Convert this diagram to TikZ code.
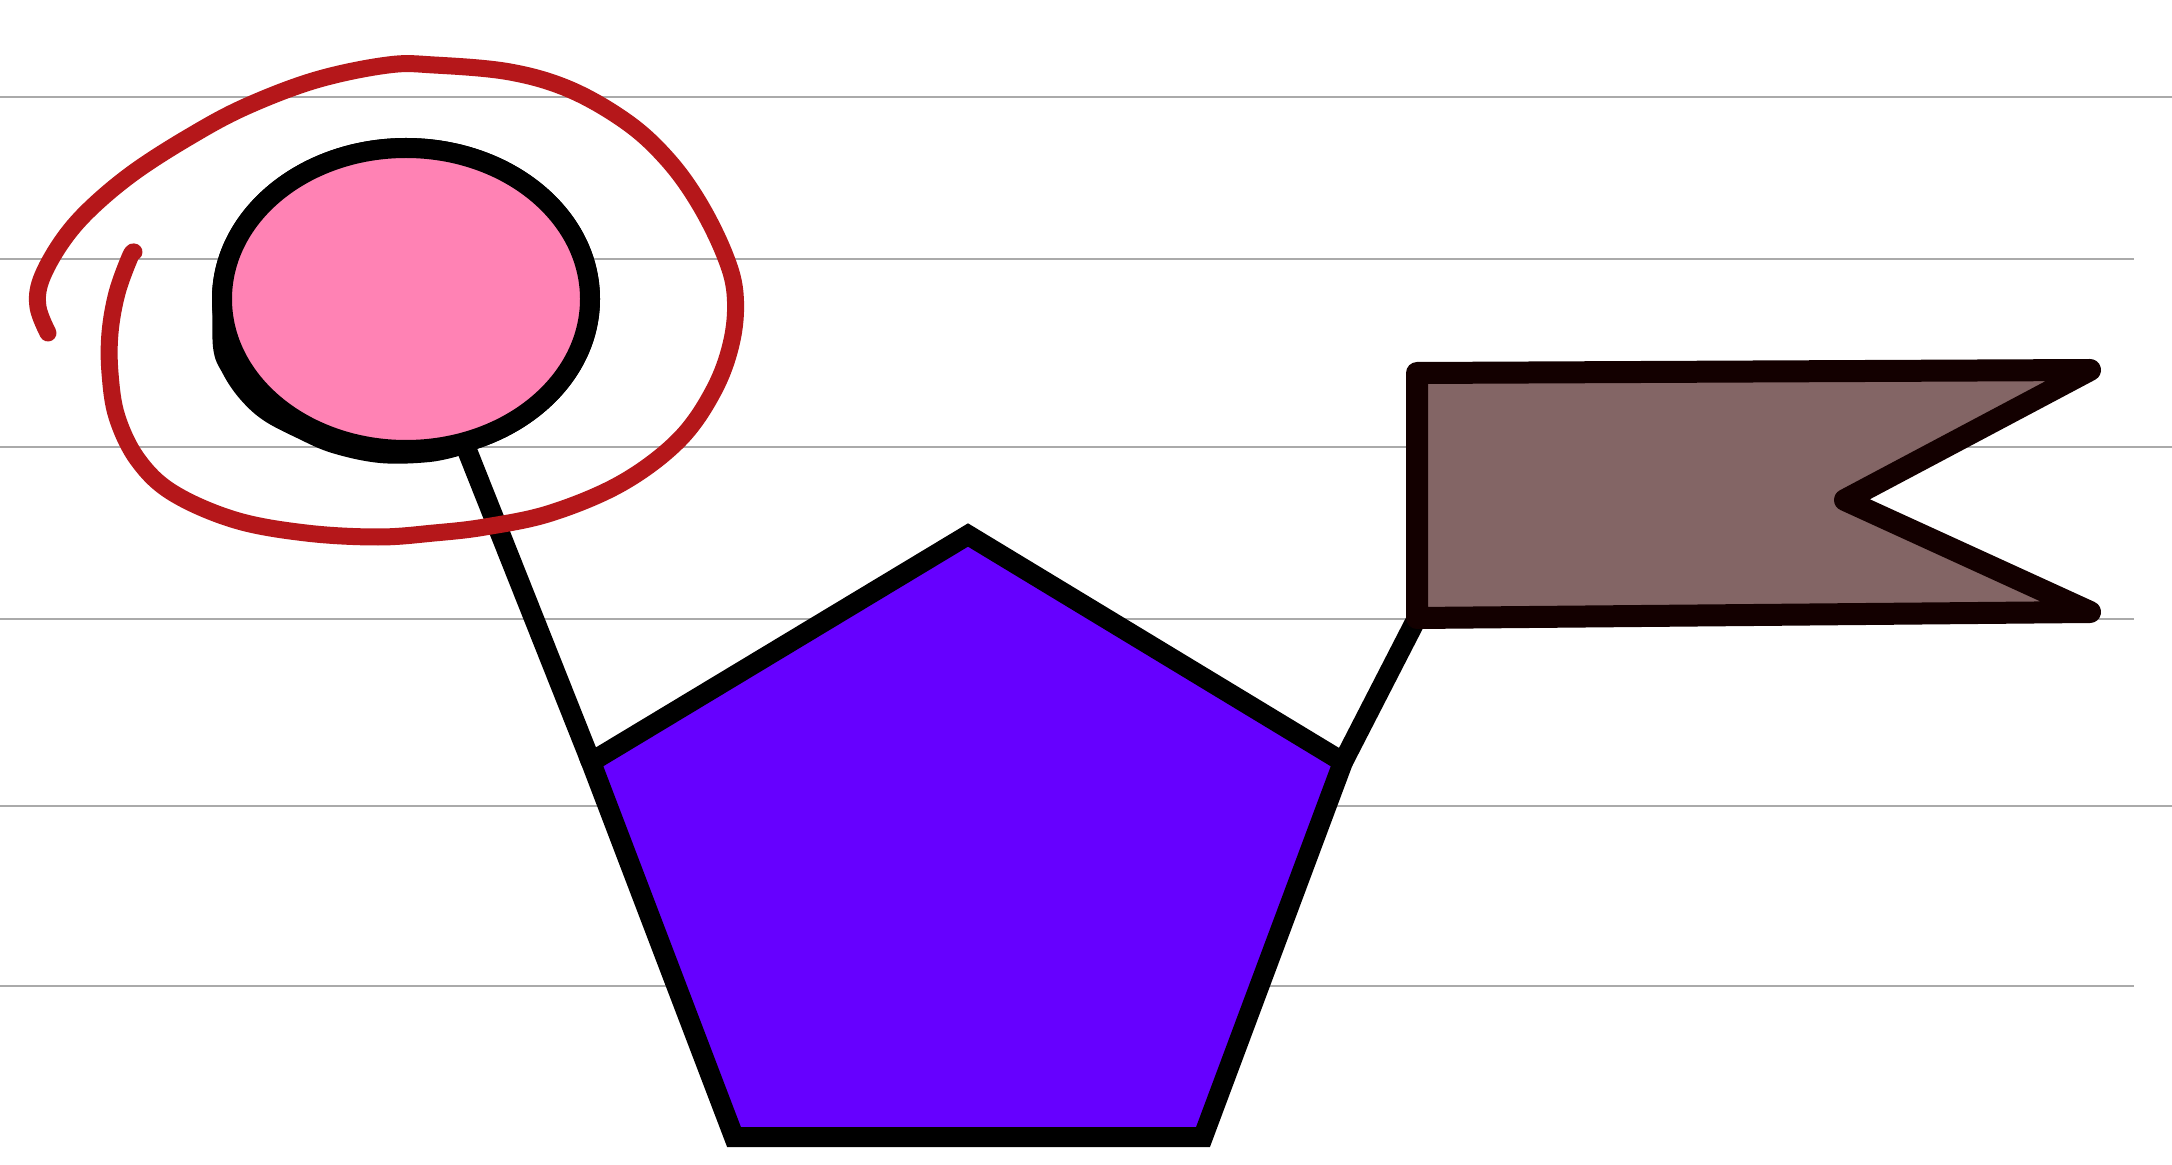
\documentclass[tikz,border=0pt]{standalone}
\usetikzlibrary{shapes.geometric}
\definecolor{rulegray}{HTML}{AAAAAA}
\definecolor{inkred}{HTML}{B5171A}
\definecolor{blobpink}{HTML}{FF82B4}
\definecolor{pentpurple}{HTML}{6600FF}
\definecolor{flagfill}{HTML}{836565}
\definecolor{flagink}{HTML}{130000}
\tikzset{
  ruleline/.style={draw=rulegray, line width=1pt},
  redink/.style={draw=inkred, line width=8.5pt, line cap=round, line join=round},
  connector/.style={draw=black, line width=10pt},
  blob/.style={ellipse, draw=black, fill=blobpink, line width=10pt, inner sep=0pt, outer sep=0pt, minimum width=184pt, minimum height=151pt},
  pentshape/.style={draw=black, fill=pentpurple, line width=10pt},
  flagshape/.style={draw=flagink, fill=flagfill, line width=11pt, line join=round, line cap=round}
}
\begin{document}
\begin{tikzpicture}[x=0.5pt,y=-0.5pt]
\useasboundingbox (0,0) rectangle (2172,1165);
\fill[white] (0,0) rectangle (2172,1165);
% ruled lines
\coordinate (r1a) at (0,97);   \coordinate (r1b) at (2172,97);
\coordinate (r2a) at (0,259);  \coordinate (r2b) at (2134,259);
\coordinate (r3a) at (0,447);  \coordinate (r3b) at (2172,447);
\coordinate (r4a) at (0,619);  \coordinate (r4b) at (2134,619);
\coordinate (r5a) at (0,806);  \coordinate (r5b) at (2172,806);
\coordinate (r6a) at (0,986);  \coordinate (r6b) at (2134,986);
\foreach \i in {1,...,6} {\draw[ruleline] (r\i a) -- (r\i b);}
% pentagon vertices
\coordinate (pT) at (968,535);
\coordinate (pUR) at (1343,762);
\coordinate (pBR) at (1203,1137);
\coordinate (pBL) at (734,1137);
\coordinate (pUL) at (591,762);
% flag vertices
\coordinate (fTL) at (1417,373);
\coordinate (fTR) at (2090,370);
\coordinate (fN) at (1845,500);
\coordinate (fBR) at (2090,612);
\coordinate (fBL) at (1417,618);
% blob node
\node[blob] (el) at (406,299) {};
% connectors
\draw[connector] (el.-68) -- (pUL);
\draw[connector] (pUR) -- (fBL);
% smudge on blob outline (lower left)
\fill[black] plot[smooth, tension=0.6] coordinates {(213,285) (213,347) (223,374) (240,399) (263,420)
  (297,438) (332,453) (380,463) (430,462) (462,455)} -- (406,299) -- cycle;
\node[blob] (el2) at (406,299) {};
% pentagon
\draw[pentshape] (pT) -- (pUR) -- (pBR) -- (pBL) -- (pUL) -- cycle;
% flag
\draw[flagshape] (fTL) -- (fTR) -- (fN) -- (fBR) -- (fBL) -- cycle;
% red hand-drawn loop
\draw[redink] plot[smooth, tension=0.6] coordinates {
 (48,333) (38,307) (41,280) (61,243) (89,210) (133,173) (189,137) (245,107)
 (316,80) (388,65) (434,65) (510,72) (571,90) (628,123) (668,160) (699,203)
 (724,253) (735,293) (732,340) (714,390) (679,440) (622,483) (551,513)
 (485,527) (434,533) (378,537) (306,533) (235,520) (173,493) (138,460)
 (117,417) (110,373) (110,333) (117,293) (130,257) (134,252)};
\end{tikzpicture}
\end{document}
